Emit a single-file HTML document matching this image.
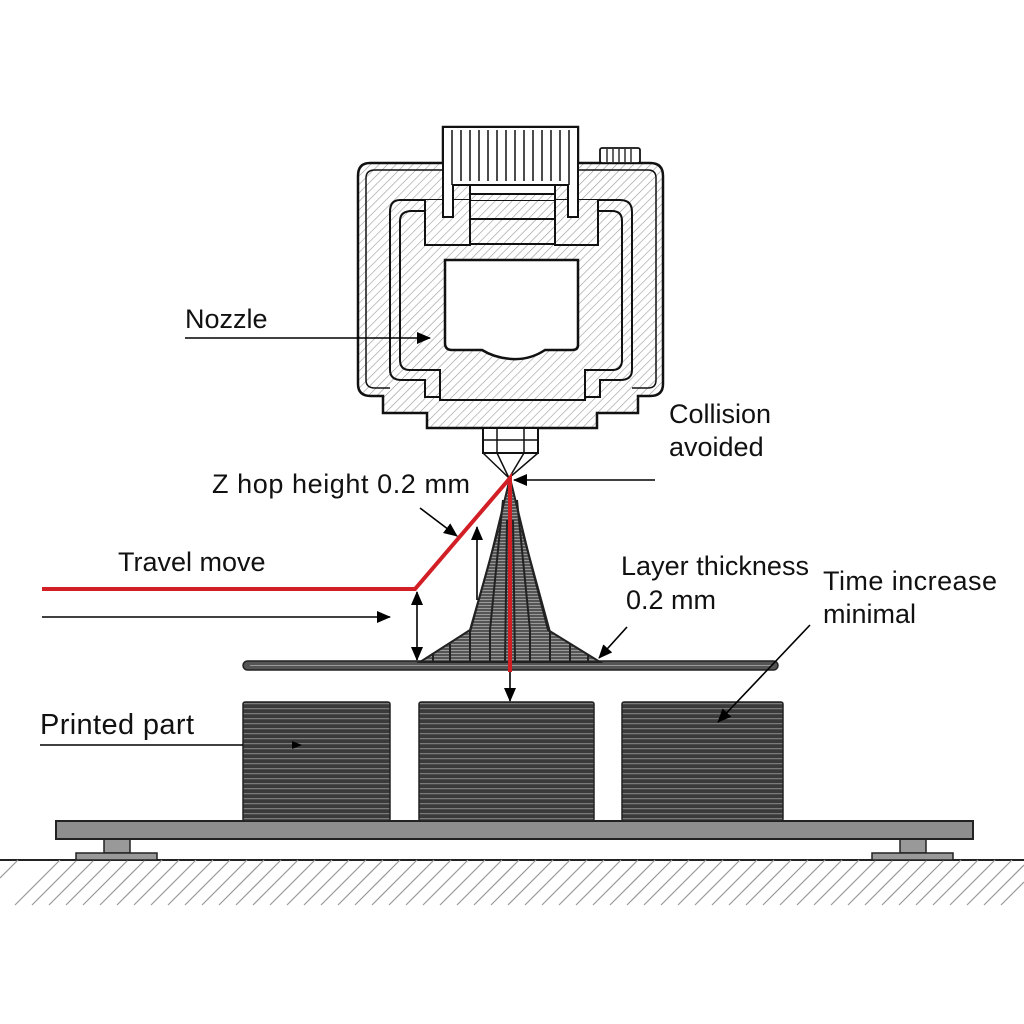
<!DOCTYPE html>
<html><head><meta charset="utf-8"><style>
html,body{margin:0;padding:0;background:#fff}
svg{display:block}
text{font-family:"Liberation Sans",sans-serif;fill:#111}
</style></head><body>
<svg width="1024" height="1024" viewBox="0 0 1024 1024" xmlns="http://www.w3.org/2000/svg">
<defs>
<pattern id="h" width="6" height="6" patternUnits="userSpaceOnUse" patternTransform="rotate(45)">
<rect width="6" height="6" fill="#fff"/><line x1="0" y1="0" x2="0" y2="6" stroke="#9a9a9a" stroke-width="1.2"/>
</pattern>
<pattern id="st" width="10" height="5" patternUnits="userSpaceOnUse">
<rect width="10" height="5" fill="#3a3a3a"/><rect y="3.2" width="10" height="1" fill="#8a8a8a"/>
</pattern>
<pattern id="cs" width="10" height="3" patternUnits="userSpaceOnUse">
<rect width="10" height="3" fill="#555"/><rect y="2" width="10" height="0.8" fill="#aaa"/>
</pattern>
<marker id="b" markerWidth="14" markerHeight="12" refX="13" refY="6" orient="auto" markerUnits="userSpaceOnUse"><path d="M0,0 L14,6 L0,12z" fill="#000"/></marker>
</defs>

<!-- ground -->
<path d="M0,860 L1024,860" stroke="#222" stroke-width="2"/>
<g stroke="#999" stroke-width="1.2">
<path d="M0,878L18,860M15,905L60,860M32,905L77,860M49,905L94,860M66,905L111,860M83,905L128,860M100,905L145,860M117,905L162,860M134,905L179,860M151,905L196,860M168,905L213,860M185,905L230,860M202,905L247,860M219,905L264,860M236,905L281,860M253,905L298,860M270,905L315,860M287,905L332,860M304,905L349,860M321,905L366,860M338,905L383,860M355,905L400,860M372,905L417,860M389,905L434,860M406,905L451,860M423,905L468,860M440,905L485,860M457,905L502,860M474,905L519,860M491,905L536,860M508,905L553,860M525,905L570,860M542,905L587,860M559,905L604,860M576,905L621,860M593,905L638,860M610,905L655,860M627,905L672,860M644,905L689,860M661,905L706,860M678,905L723,860M695,905L740,860M712,905L757,860M729,905L774,860M746,905L791,860M763,905L808,860M780,905L825,860M797,905L842,860M814,905L859,860M831,905L876,860M848,905L893,860M865,905L910,860M882,905L927,860M899,905L944,860M916,905L961,860M933,905L978,860M950,905L995,860M967,905L1012,860M984,905L1024,865M1001,905L1024,882"/>
</g>

<!-- bed -->
<rect x="104" y="838" width="26" height="15" fill="#999" stroke="#222" stroke-width="1.5"/>
<rect x="76" y="853" width="81" height="7" fill="#999" stroke="#222" stroke-width="1.5"/>
<rect x="900" y="838" width="26" height="15" fill="#999" stroke="#222" stroke-width="1.5"/>
<rect x="872" y="853" width="81" height="7" fill="#999" stroke="#222" stroke-width="1.5"/>
<rect x="56" y="821" width="917" height="18" fill="#8e8e8e" stroke="#222" stroke-width="2"/>

<!-- blocks -->
<rect x="243" y="702" width="147" height="119" rx="2" fill="url(#st)" stroke="#222" stroke-width="1.5"/>
<rect x="419" y="702" width="175" height="119" rx="2" fill="url(#st)" stroke="#222" stroke-width="1.5"/>
<rect x="622" y="702" width="161" height="119" rx="2" fill="url(#st)" stroke="#222" stroke-width="1.5"/>

<!-- plate -->
<rect x="243" y="661" width="535" height="9" rx="4.5" fill="#555" stroke="#222" stroke-width="1.5"/>
<line x1="250" y1="665.5" x2="772" y2="665.5" stroke="#999" stroke-width="1"/>

<!-- cone -->
<path d="M510,478 L530,560 L548,630 L600,662 L420,662 L470,630 L490,560 Z" fill="url(#cs)" stroke="#222" stroke-width="2"/>
<g stroke="#222" stroke-width="2" fill="none">
<path d="M503,500 L490,630 L490,662 M517,500 L530,630 L530,662 M498,530 L470,632 L470,662 M522,530 L550,632 L550,662 M507,520 L505,662 M513,520 L515,662"/>
<path d="M450,644 L450,662 M570,644 L570,662 M433,654 L433,662 M588,654 L588,662"/>
</g>

<!-- nozzle assembly -->
<path d="M370,163 L443,163 L443,127 L578,127 L578,163 L650,163 Q663,163 663,176 L663,384 Q663,396 650,396 L638,396 L638,413 L597,413 L597,428 L427,428 L427,413 L383,413 L383,396 L371,396 Q358,396 358,384 L358,176 Q358,163 370,163 Z" fill="url(#h)" stroke="#111" stroke-width="2.5"/>
<path d="M375,170 L443,170 M578,170 L648,170 Q656,170 656,178 L656,380 Q656,388 648,388 L632,388 M375,170 Q366,170 366,178 L366,380 Q366,388 375,388 L390,388" fill="none" stroke="#111" stroke-width="1.5"/>
<path d="M400,200 L443,200 M578,200 L620,200 Q632,200 632,212 L632,370 Q632,380 620,380 L600,380 L600,397 L425,397 L425,380 L402,380 Q390,380 390,370 L390,212 Q390,200 400,200 Z" fill="url(#h)" stroke="#111" stroke-width="2"/>
<path d="M412,211 L440,211 L440,244 L593,244 L593,211 L612,211 Q622,211 622,221 L622,360 Q622,370 612,370 L585,370 L585,400 L440,400 L440,370 L410,370 Q400,370 400,360 L400,221 Q400,211 412,211 Z" fill="url(#h)" stroke="#111" stroke-width="2"/>
<path d="M425,200 L425,245 L470,245 L470,190 L555,190 L555,245 L598,245 L598,200" fill="url(#h)" stroke="#111" stroke-width="2"/>
<rect x="470" y="180" width="85" height="14" fill="#fff" stroke="#111" stroke-width="2"/>
<line x1="470" y1="219" x2="555" y2="219" stroke="#111" stroke-width="2"/>
<path d="M445,260 L578,260 L578,345 Q578,350 572,350 L545,350 Q530,360 512,359 Q495,358 482,350 L452,350 Q445,350 445,343 Z" fill="#fff" stroke="#111" stroke-width="2.5"/>
<path d="M443,127 L578,127 L578,217 L568,217 L568,185 L453,185 L453,217 L443,217 Z" fill="#fff" stroke="#111" stroke-width="2"/>
<g stroke="#111" stroke-width="1.5">
<path d="M452,130V185M461,130V181M470,130V181M479,130V181M488,130V181M497,130V181M506,130V181M515,130V181M524,130V181M533,130V181M542,130V181M551,130V181M560,130V181M569,130V185"/>
</g>
<rect x="600" y="148" width="40" height="15" rx="2" fill="#fff" stroke="#111" stroke-width="1.8"/>
<path d="M607,149V162M613,149V162M619,149V162M625,149V162M631,149V162" stroke="#111" stroke-width="1.3"/>
<rect x="483" y="428" width="55" height="25" fill="#fff" stroke="#111" stroke-width="2"/>
<path d="M483,440H538M497,428V453M524,428V453" stroke="#111" stroke-width="1.5"/>
<path d="M483,453 L509,478 L538,453 M497,453 L509,478 L524,453" fill="none" stroke="#111" stroke-width="1.5"/>

<!-- red path -->
<path d="M42,589 L415,589 L510,478 L510,672" fill="none" stroke="#d21f26" stroke-width="4"/>

<!-- arrows -->
<g stroke="#000" stroke-width="1.6" fill="none">
<line x1="185" y1="338" x2="430" y2="338" marker-end="url(#b)"/>
<line x1="655" y1="480" x2="514" y2="480" marker-end="url(#b)"/>
<line x1="420" y1="508" x2="457" y2="536" marker-end="url(#b)"/>
<line x1="42" y1="617" x2="390" y2="617" marker-end="url(#b)"/>
<line x1="417" y1="605" x2="417" y2="592" marker-end="url(#b)"/>
<line x1="417" y1="600" x2="417" y2="660" marker-end="url(#b)"/>
<line x1="477" y1="600" x2="477" y2="527" marker-end="url(#b)"/>
<line x1="627" y1="627" x2="599" y2="658" marker-end="url(#b)"/>
<line x1="810" y1="625" x2="718" y2="722" marker-end="url(#b)"/>
<line x1="510" y1="672" x2="510" y2="701" marker-end="url(#b)"/>
<line x1="40" y1="745" x2="243" y2="745"/>
</g>
<path d="M292,741 L302,745 L292,749z" fill="#000"/>

<!-- labels -->
<text x="185" y="328" font-size="27">Nozzle</text>
<text x="669" y="423" font-size="27">Collision</text>
<text x="669" y="456" font-size="27">avoided</text>
<text x="212" y="493" font-size="27" textLength="258">Z hop height 0.2 mm</text>
<text x="118" y="571" font-size="27">Travel move</text>
<text x="621" y="575" font-size="27" textLength="188">Layer thickness</text>
<text x="626" y="609" font-size="27">0.2 mm</text>
<text x="823" y="590" font-size="27" textLength="174">Time increase</text>
<text x="823" y="623" font-size="27">minimal</text>
<text x="40" y="734" font-size="29" textLength="154">Printed part</text>
</svg>
</body></html>
